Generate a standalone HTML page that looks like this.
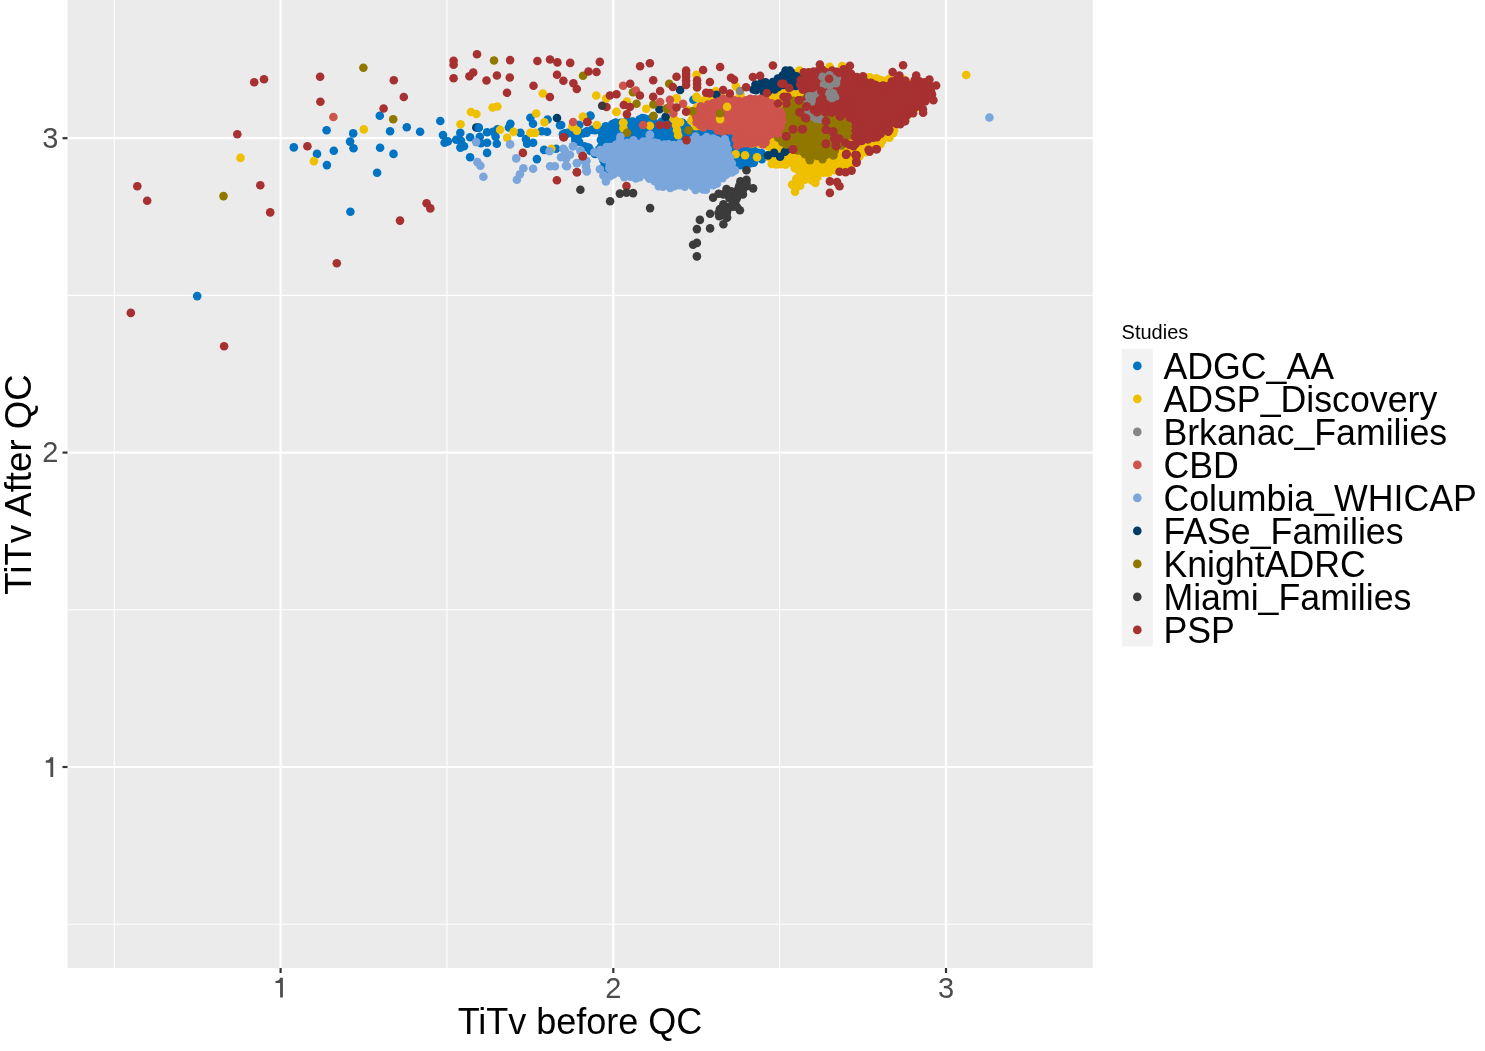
<!DOCTYPE html><html><head><meta charset="utf-8"><style>html,body{margin:0;padding:0;background:#fff;width:1485px;height:1051px;overflow:hidden}svg{display:block;will-change:transform}text{font-family:"Liberation Sans",sans-serif}</style></head><body>
<svg width="1485" height="1051" viewBox="0 0 1485 1051">
<rect width="1485" height="1051" fill="#fff"/>
<rect x="67.5" y="0.0" width="1025.3" height="968.0" fill="#EBEBEB"/>
<line x1="114.25" y1="0.0" x2="114.25" y2="968.0" stroke="#fff" stroke-width="1.1"/>
<line x1="446.95" y1="0.0" x2="446.95" y2="968.0" stroke="#fff" stroke-width="1.1"/>
<line x1="779.65" y1="0.0" x2="779.65" y2="968.0" stroke="#fff" stroke-width="1.1"/>
<line x1="67.5" y1="924.20" x2="1092.8" y2="924.20" stroke="#fff" stroke-width="1.1"/>
<line x1="67.5" y1="609.80" x2="1092.8" y2="609.80" stroke="#fff" stroke-width="1.1"/>
<line x1="67.5" y1="295.40" x2="1092.8" y2="295.40" stroke="#fff" stroke-width="1.1"/>
<line x1="280.60" y1="0.0" x2="280.60" y2="968.0" stroke="#fff" stroke-width="2.2"/>
<line x1="613.30" y1="0.0" x2="613.30" y2="968.0" stroke="#fff" stroke-width="2.2"/>
<line x1="946.00" y1="0.0" x2="946.00" y2="968.0" stroke="#fff" stroke-width="2.2"/>
<line x1="67.5" y1="767.00" x2="1092.8" y2="767.00" stroke="#fff" stroke-width="2.2"/>
<line x1="67.5" y1="452.60" x2="1092.8" y2="452.60" stroke="#fff" stroke-width="2.2"/>
<line x1="67.5" y1="138.20" x2="1092.8" y2="138.20" stroke="#fff" stroke-width="2.2"/>
<g>
<path d="M601.4,129.0 L600.5,149.8 L603.1,166.8 L699.9,176.5 L732.2,171.9 L733.6,166.2 L733.7,165.9 L733.8,165.6 L734.0,165.3 L734.2,165.0 L734.5,164.7 L734.7,164.5 L735.0,164.2 L735.3,164.0 L735.6,163.9 L735.9,163.8 L736.3,163.7 L736.6,163.6 L737.0,163.6 L737.3,163.6 L737.7,163.7 L749.6,166.0 L751.7,164.4 L752.0,164.2 L761.1,158.1 L762.3,155.0 L760.8,151.4 L753.2,150.5 L752.9,150.4 L752.6,150.3 L752.3,150.2 L752.0,150.1 L739.9,144.0 L739.6,143.8 L739.3,143.6 L739.0,143.4 L731.2,135.6 L722.5,133.4 L722.3,133.4 L711.2,130.1 L700.1,133.4 L699.8,133.4 L699.4,133.5 L699.1,133.5 L698.7,133.5 L698.4,133.4 L698.1,133.3 L697.7,133.2 L689.2,129.6 L688.9,129.5 L688.7,129.3 L688.4,129.1 L688.2,128.9 L688.0,128.7 L687.8,128.4 L683.2,122.1 L676.0,124.8 L675.7,124.9 L675.3,125.0 L675.0,125.0 L674.6,125.0 L674.3,125.0 L673.9,124.9 L673.6,124.8 L673.2,124.6 L664.5,120.3 L653.3,121.4 L653.0,121.4 L652.7,121.4 L652.4,121.3 L643.3,119.7 L633.0,121.4 L632.8,121.4 L613.8,123.7 L604.5,127.2 L601.4,129.0Z" fill="#0073C2"/><circle cx="600.1" cy="130.3" r="4.3" fill="#0073C2"/><circle cx="602.1" cy="133.7" r="4.3" fill="#0073C2"/><circle cx="600.9" cy="139.9" r="4.3" fill="#0073C2"/><circle cx="601.2" cy="146.6" r="4.3" fill="#0073C2"/><circle cx="599.2" cy="149.3" r="4.3" fill="#0073C2"/><circle cx="602.7" cy="156.2" r="4.3" fill="#0073C2"/><circle cx="603.3" cy="160.1" r="4.3" fill="#0073C2"/><circle cx="603.5" cy="167.6" r="4.3" fill="#0073C2"/><circle cx="608.2" cy="169.0" r="4.3" fill="#0073C2"/><circle cx="616.1" cy="166.3" r="4.3" fill="#0073C2"/><circle cx="618.4" cy="168.6" r="4.3" fill="#0073C2"/><circle cx="627.2" cy="168.6" r="4.3" fill="#0073C2"/><circle cx="630.0" cy="169.3" r="4.3" fill="#0073C2"/><circle cx="634.9" cy="169.1" r="4.3" fill="#0073C2"/><circle cx="641.8" cy="170.7" r="4.3" fill="#0073C2"/><circle cx="646.6" cy="170.3" r="4.3" fill="#0073C2"/><circle cx="652.0" cy="171.6" r="4.3" fill="#0073C2"/><circle cx="657.7" cy="170.6" r="4.3" fill="#0073C2"/><circle cx="665.2" cy="173.1" r="4.3" fill="#0073C2"/><circle cx="670.0" cy="172.3" r="4.3" fill="#0073C2"/><circle cx="676.7" cy="175.3" r="4.3" fill="#0073C2"/><circle cx="679.0" cy="173.9" r="4.3" fill="#0073C2"/><circle cx="686.7" cy="175.8" r="4.3" fill="#0073C2"/><circle cx="692.9" cy="175.3" r="4.3" fill="#0073C2"/><circle cx="698.0" cy="176.8" r="4.3" fill="#0073C2"/><circle cx="701.6" cy="176.4" r="4.3" fill="#0073C2"/><circle cx="709.2" cy="176.6" r="4.3" fill="#0073C2"/><circle cx="713.3" cy="174.9" r="4.3" fill="#0073C2"/><circle cx="717.0" cy="172.9" r="4.3" fill="#0073C2"/><circle cx="725.2" cy="172.7" r="4.3" fill="#0073C2"/><circle cx="728.4" cy="172.4" r="4.3" fill="#0073C2"/><circle cx="733.6" cy="169.7" r="4.3" fill="#0073C2"/><circle cx="734.6" cy="164.0" r="4.3" fill="#0073C2"/><circle cx="740.5" cy="165.2" r="4.3" fill="#0073C2"/><circle cx="745.9" cy="164.9" r="4.3" fill="#0073C2"/><circle cx="750.9" cy="163.3" r="4.3" fill="#0073C2"/><circle cx="753.8" cy="162.6" r="4.3" fill="#0073C2"/><circle cx="761.8" cy="159.2" r="4.3" fill="#0073C2"/><circle cx="761.5" cy="153.0" r="4.3" fill="#0073C2"/><circle cx="758.3" cy="152.8" r="4.3" fill="#0073C2"/><circle cx="753.8" cy="150.6" r="4.3" fill="#0073C2"/><circle cx="749.2" cy="147.1" r="4.3" fill="#0073C2"/><circle cx="743.0" cy="147.2" r="4.3" fill="#0073C2"/><circle cx="738.6" cy="142.5" r="4.3" fill="#0073C2"/><circle cx="733.6" cy="138.9" r="4.3" fill="#0073C2"/><circle cx="731.9" cy="133.5" r="4.3" fill="#0073C2"/><circle cx="725.9" cy="135.2" r="4.3" fill="#0073C2"/><circle cx="721.0" cy="133.4" r="4.3" fill="#0073C2"/><circle cx="715.4" cy="131.0" r="4.3" fill="#0073C2"/><circle cx="709.3" cy="130.4" r="4.3" fill="#0073C2"/><circle cx="702.2" cy="133.6" r="4.3" fill="#0073C2"/><circle cx="698.7" cy="132.4" r="4.3" fill="#0073C2"/><circle cx="693.3" cy="131.3" r="4.3" fill="#0073C2"/><circle cx="687.8" cy="128.5" r="4.3" fill="#0073C2"/><circle cx="685.2" cy="125.1" r="4.3" fill="#0073C2"/><circle cx="681.4" cy="122.8" r="4.3" fill="#0073C2"/><circle cx="674.1" cy="123.9" r="4.3" fill="#0073C2"/><circle cx="669.5" cy="123.7" r="4.3" fill="#0073C2"/><circle cx="667.1" cy="122.0" r="4.3" fill="#0073C2"/><circle cx="661.5" cy="121.8" r="4.3" fill="#0073C2"/><circle cx="654.0" cy="122.5" r="4.3" fill="#0073C2"/><circle cx="650.1" cy="119.3" r="4.3" fill="#0073C2"/><circle cx="642.3" cy="118.1" r="4.3" fill="#0073C2"/><circle cx="639.5" cy="119.5" r="4.3" fill="#0073C2"/><circle cx="631.8" cy="121.8" r="4.3" fill="#0073C2"/><circle cx="627.2" cy="120.5" r="4.3" fill="#0073C2"/><circle cx="621.0" cy="122.8" r="4.3" fill="#0073C2"/><circle cx="615.6" cy="122.5" r="4.3" fill="#0073C2"/><circle cx="612.2" cy="124.4" r="4.3" fill="#0073C2"/><circle cx="605.7" cy="126.4" r="4.3" fill="#0073C2"/><circle cx="326.6" cy="130.3" r="4.3" fill="#0073C2"/><circle cx="353.2" cy="133.4" r="4.3" fill="#0073C2"/><circle cx="379.8" cy="115.8" r="4.3" fill="#0073C2"/><circle cx="390.1" cy="131.3" r="4.3" fill="#0073C2"/><circle cx="406.8" cy="127.2" r="4.3" fill="#0073C2"/><circle cx="420.1" cy="131.7" r="4.3" fill="#0073C2"/><circle cx="293.8" cy="147.4" r="4.3" fill="#0073C2"/><circle cx="317.0" cy="153.9" r="4.3" fill="#0073C2"/><circle cx="333.8" cy="150.8" r="4.3" fill="#0073C2"/><circle cx="350.1" cy="141.6" r="4.3" fill="#0073C2"/><circle cx="353.5" cy="148.3" r="4.3" fill="#0073C2"/><circle cx="380.1" cy="147.8" r="4.3" fill="#0073C2"/><circle cx="393.5" cy="153.9" r="4.3" fill="#0073C2"/><circle cx="326.9" cy="165.1" r="4.3" fill="#0073C2"/><circle cx="377.1" cy="172.8" r="4.3" fill="#0073C2"/><circle cx="350.4" cy="211.8" r="4.3" fill="#0073C2"/><circle cx="197.2" cy="296.1" r="4.3" fill="#0073C2"/><circle cx="440.3" cy="121.0" r="4.3" fill="#0073C2"/><circle cx="530.4" cy="117.8" r="4.3" fill="#0073C2"/><circle cx="533.0" cy="123.8" r="4.3" fill="#0073C2"/><circle cx="510.4" cy="123.8" r="4.3" fill="#0073C2"/><circle cx="547.6" cy="119.5" r="4.3" fill="#0073C2"/><circle cx="560.0" cy="125.3" r="4.3" fill="#0073C2"/><circle cx="443.0" cy="135.1" r="4.3" fill="#0073C2"/><circle cx="460.3" cy="132.9" r="4.3" fill="#0073C2"/><circle cx="444.6" cy="142.7" r="4.3" fill="#0073C2"/><circle cx="447.8" cy="141.4" r="4.3" fill="#0073C2"/><circle cx="456.2" cy="139.7" r="4.3" fill="#0073C2"/><circle cx="461.0" cy="140.8" r="4.3" fill="#0073C2"/><circle cx="460.4" cy="147.6" r="4.3" fill="#0073C2"/><circle cx="464.0" cy="146.3" r="4.3" fill="#0073C2"/><circle cx="470.1" cy="137.2" r="4.3" fill="#0073C2"/><circle cx="478.6" cy="127.5" r="4.3" fill="#0073C2"/><circle cx="479.8" cy="136.7" r="4.3" fill="#0073C2"/><circle cx="487.1" cy="132.3" r="4.3" fill="#0073C2"/><circle cx="493.1" cy="131.8" r="4.3" fill="#0073C2"/><circle cx="497.4" cy="129.3" r="4.3" fill="#0073C2"/><circle cx="495.6" cy="136.7" r="4.3" fill="#0073C2"/><circle cx="481.0" cy="143.2" r="4.3" fill="#0073C2"/><circle cx="487.1" cy="142.7" r="4.3" fill="#0073C2"/><circle cx="496.8" cy="143.8" r="4.3" fill="#0073C2"/><circle cx="487.1" cy="152.9" r="4.3" fill="#0073C2"/><circle cx="470.1" cy="157.2" r="4.3" fill="#0073C2"/><circle cx="508.9" cy="127.5" r="4.3" fill="#0073C2"/><circle cx="520.4" cy="132.9" r="4.3" fill="#0073C2"/><circle cx="525.9" cy="139.1" r="4.3" fill="#0073C2"/><circle cx="527.1" cy="143.8" r="4.3" fill="#0073C2"/><circle cx="533.1" cy="142.7" r="4.3" fill="#0073C2"/><circle cx="541.6" cy="131.2" r="4.3" fill="#0073C2"/><circle cx="547.1" cy="131.8" r="4.3" fill="#0073C2"/><circle cx="567.1" cy="133.6" r="4.3" fill="#0073C2"/><circle cx="562.9" cy="134.2" r="4.3" fill="#0073C2"/><circle cx="536.9" cy="159.1" r="4.3" fill="#0073C2"/><circle cx="544.1" cy="149.9" r="4.3" fill="#0073C2"/><circle cx="556.1" cy="148.8" r="4.3" fill="#0073C2"/><circle cx="579.2" cy="125.0" r="4.3" fill="#0073C2"/><circle cx="590.1" cy="115.5" r="4.3" fill="#0073C2"/><circle cx="592.5" cy="129.9" r="4.3" fill="#0073C2"/><circle cx="578.0" cy="134.8" r="4.3" fill="#0073C2"/><circle cx="586.5" cy="132.9" r="4.3" fill="#0073C2"/><circle cx="575.6" cy="141.4" r="4.3" fill="#0073C2"/><circle cx="587.8" cy="147.6" r="4.3" fill="#0073C2"/><circle cx="594.9" cy="153.6" r="4.3" fill="#0073C2"/><circle cx="603.4" cy="130.6" r="4.3" fill="#0073C2"/><circle cx="604.6" cy="139.1" r="4.3" fill="#0073C2"/><circle cx="613.4" cy="123.8" r="4.3" fill="#0073C2"/><circle cx="632.9" cy="121.5" r="4.3" fill="#0073C2"/><circle cx="644.9" cy="118.5" r="4.3" fill="#0073C2"/><circle cx="693.4" cy="99.7" r="4.3" fill="#0073C2"/><circle cx="682.5" cy="122.7" r="4.3" fill="#0073C2"/><circle cx="574.2" cy="134.9" r="4.3" fill="#0073C2"/><circle cx="577.6" cy="136.4" r="4.3" fill="#0073C2"/><circle cx="582.9" cy="133.4" r="4.3" fill="#0073C2"/><circle cx="586.8" cy="131.2" r="4.3" fill="#0073C2"/><circle cx="592.1" cy="129.7" r="4.3" fill="#0073C2"/><circle cx="595.1" cy="130.3" r="4.3" fill="#0073C2"/><circle cx="575.4" cy="139.4" r="4.3" fill="#0073C2"/><circle cx="579.1" cy="141.8" r="4.3" fill="#0073C2"/><circle cx="589.0" cy="147.8" r="4.3" fill="#0073C2"/><circle cx="590.5" cy="150.9" r="4.3" fill="#0073C2"/><circle cx="584.5" cy="146.3" r="4.3" fill="#0073C2"/><circle cx="564.8" cy="133.4" r="4.3" fill="#0073C2"/><circle cx="567.8" cy="132.7" r="4.3" fill="#0073C2"/><circle cx="578.4" cy="125.0" r="4.3" fill="#0073C2"/><circle cx="590.5" cy="116.0" r="4.3" fill="#0073C2"/><circle cx="561.2" cy="125.0" r="4.3" fill="#0073C2"/><circle cx="595.1" cy="153.9" r="4.3" fill="#0073C2"/><path d="M706.2,100.5 L697.7,107.3 L691.8,118.4 L693.5,123.8 L699.3,126.3 L710.2,123.0 L710.5,123.0 L710.9,122.9 L711.2,122.9 L711.5,122.9 L711.9,123.0 L712.2,123.0 L724.2,126.6 L733.8,129.0 L734.1,129.1 L734.4,129.2 L734.7,129.4 L735.0,129.5 L735.2,129.7 L735.5,129.9 L743.6,138.0 L754.6,143.6 L763.7,144.7 L764.1,144.8 L764.4,144.9 L764.7,145.0 L765.0,145.1 L765.3,145.3 L765.6,145.5 L765.8,145.8 L766.0,146.0 L766.2,146.3 L766.4,146.6 L766.6,146.9 L769.3,153.7 L769.4,154.0 L769.4,154.4 L769.5,154.7 L769.5,155.0 L769.5,155.4 L769.4,155.7 L768.2,161.4 L776.9,164.9 L790.6,163.8 L790.9,163.8 L791.3,163.8 L791.6,163.9 L791.9,164.0 L792.2,164.1 L792.5,164.2 L792.8,164.4 L793.1,164.6 L793.4,164.8 L799.5,170.8 L799.7,171.1 L799.9,171.3 L800.1,171.6 L800.2,171.9 L800.3,172.3 L800.4,172.6 L800.5,172.9 L800.5,173.3 L800.5,173.6 L800.4,174.0 L800.4,174.3 L800.2,174.6 L800.1,174.9 L799.9,175.2 L799.7,175.5 L799.5,175.8 L793.2,182.0 L793.2,191.3 L794.1,192.1 L800.1,183.5 L800.4,183.1 L805.4,177.6 L805.7,177.4 L805.9,177.2 L806.2,177.0 L806.5,176.8 L806.9,176.7 L807.2,176.6 L807.5,176.5 L807.9,176.5 L808.3,176.5 L808.6,176.6 L808.9,176.6 L809.3,176.7 L809.6,176.9 L809.9,177.1 L810.2,177.3 L816.8,182.6 L820.5,175.4 L820.7,175.1 L820.9,174.8 L821.1,174.5 L821.4,174.3 L821.7,174.1 L822.0,173.9 L822.3,173.7 L822.7,173.6 L835.9,170.0 L853.5,162.9 L858.5,159.5 L862.5,152.6 L862.7,152.3 L862.9,152.1 L863.2,151.8 L863.4,151.6 L863.7,151.4 L864.1,151.2 L864.4,151.1 L864.7,151.0 L872.3,149.3 L880.1,145.3 L884.6,140.8 L890.6,134.8 L895.4,128.3 L895.5,128.0 L895.8,127.8 L896.0,127.6 L898.8,125.3 L899.1,125.1 L904.5,121.5 L912.1,110.1 L912.3,109.8 L912.5,109.5 L922.1,99.9 L926.0,92.2 L922.7,86.9 L899.6,79.6 L880.3,81.5 L880.0,81.5 L879.7,81.5 L879.3,81.4 L859.4,77.4 L834.7,73.5 L810.2,73.5 L791.6,75.4 L774.5,92.5 L774.3,92.7 L774.0,92.9 L773.8,93.0 L761.8,100.0 L761.5,100.2 L761.2,100.3 L760.9,100.4 L760.6,100.5 L760.2,100.5 L745.2,101.5 L744.9,101.5 L719.9,100.5 L706.2,100.5Z" fill="#EFC000"/><circle cx="704.5" cy="100.1" r="4.3" fill="#EFC000"/><circle cx="701.6" cy="102.8" r="4.3" fill="#EFC000"/><circle cx="696.2" cy="108.9" r="4.3" fill="#EFC000"/><circle cx="695.0" cy="111.3" r="4.3" fill="#EFC000"/><circle cx="692.8" cy="118.4" r="4.3" fill="#EFC000"/><circle cx="691.3" cy="120.7" r="4.3" fill="#EFC000"/><circle cx="696.0" cy="126.2" r="4.3" fill="#EFC000"/><circle cx="701.3" cy="126.1" r="4.3" fill="#EFC000"/><circle cx="708.5" cy="123.9" r="4.3" fill="#EFC000"/><circle cx="712.2" cy="125.1" r="4.3" fill="#EFC000"/><circle cx="719.6" cy="125.0" r="4.3" fill="#EFC000"/><circle cx="722.8" cy="127.0" r="4.3" fill="#EFC000"/><circle cx="728.8" cy="128.1" r="4.3" fill="#EFC000"/><circle cx="733.9" cy="129.7" r="4.3" fill="#EFC000"/><circle cx="737.0" cy="132.3" r="4.3" fill="#EFC000"/><circle cx="744.2" cy="138.3" r="4.3" fill="#EFC000"/><circle cx="746.5" cy="141.1" r="4.3" fill="#EFC000"/><circle cx="751.5" cy="143.9" r="4.3" fill="#EFC000"/><circle cx="758.2" cy="143.6" r="4.3" fill="#EFC000"/><circle cx="762.0" cy="142.9" r="4.3" fill="#EFC000"/><circle cx="768.3" cy="146.1" r="4.3" fill="#EFC000"/><circle cx="770.1" cy="154.6" r="4.3" fill="#EFC000"/><circle cx="769.1" cy="157.1" r="4.3" fill="#EFC000"/><circle cx="771.7" cy="164.0" r="4.3" fill="#EFC000"/><circle cx="776.3" cy="164.4" r="4.3" fill="#EFC000"/><circle cx="780.5" cy="164.1" r="4.3" fill="#EFC000"/><circle cx="785.5" cy="164.8" r="4.3" fill="#EFC000"/><circle cx="791.8" cy="162.9" r="4.3" fill="#EFC000"/><circle cx="794.8" cy="168.2" r="4.3" fill="#EFC000"/><circle cx="799.3" cy="171.6" r="4.3" fill="#EFC000"/><circle cx="798.2" cy="177.8" r="4.3" fill="#EFC000"/><circle cx="796.3" cy="178.7" r="4.3" fill="#EFC000"/><circle cx="792.1" cy="184.6" r="4.3" fill="#EFC000"/><circle cx="795.0" cy="191.8" r="4.3" fill="#EFC000"/><circle cx="795.7" cy="188.0" r="4.3" fill="#EFC000"/><circle cx="800.1" cy="185.7" r="4.3" fill="#EFC000"/><circle cx="804.6" cy="179.7" r="4.3" fill="#EFC000"/><circle cx="808.5" cy="177.3" r="4.3" fill="#EFC000"/><circle cx="811.9" cy="180.5" r="4.3" fill="#EFC000"/><circle cx="815.4" cy="183.0" r="4.3" fill="#EFC000"/><circle cx="817.6" cy="177.0" r="4.3" fill="#EFC000"/><circle cx="823.7" cy="172.8" r="4.3" fill="#EFC000"/><circle cx="828.5" cy="172.6" r="4.3" fill="#EFC000"/><circle cx="834.1" cy="170.3" r="4.3" fill="#EFC000"/><circle cx="837.5" cy="168.3" r="4.3" fill="#EFC000"/><circle cx="844.6" cy="167.4" r="4.3" fill="#EFC000"/><circle cx="850.1" cy="166.3" r="4.3" fill="#EFC000"/><circle cx="852.2" cy="163.1" r="4.3" fill="#EFC000"/><circle cx="856.7" cy="158.1" r="4.3" fill="#EFC000"/><circle cx="859.5" cy="156.4" r="4.3" fill="#EFC000"/><circle cx="865.6" cy="152.2" r="4.3" fill="#EFC000"/><circle cx="869.4" cy="150.2" r="4.3" fill="#EFC000"/><circle cx="876.2" cy="147.4" r="4.3" fill="#EFC000"/><circle cx="880.4" cy="144.3" r="4.3" fill="#EFC000"/><circle cx="882.5" cy="140.6" r="4.3" fill="#EFC000"/><circle cx="889.4" cy="137.7" r="4.3" fill="#EFC000"/><circle cx="893.2" cy="133.2" r="4.3" fill="#EFC000"/><circle cx="894.1" cy="129.9" r="4.3" fill="#EFC000"/><circle cx="900.1" cy="123.4" r="4.3" fill="#EFC000"/><circle cx="904.2" cy="120.6" r="4.3" fill="#EFC000"/><circle cx="905.6" cy="119.1" r="4.3" fill="#EFC000"/><circle cx="908.4" cy="112.2" r="4.3" fill="#EFC000"/><circle cx="915.1" cy="108.4" r="4.3" fill="#EFC000"/><circle cx="915.9" cy="103.6" r="4.3" fill="#EFC000"/><circle cx="920.2" cy="101.8" r="4.3" fill="#EFC000"/><circle cx="922.6" cy="97.6" r="4.3" fill="#EFC000"/><circle cx="925.0" cy="92.9" r="4.3" fill="#EFC000"/><circle cx="923.7" cy="86.1" r="4.3" fill="#EFC000"/><circle cx="916.1" cy="85.0" r="4.3" fill="#EFC000"/><circle cx="910.3" cy="84.0" r="4.3" fill="#EFC000"/><circle cx="904.8" cy="80.0" r="4.3" fill="#EFC000"/><circle cx="902.9" cy="79.3" r="4.3" fill="#EFC000"/><circle cx="896.0" cy="79.8" r="4.3" fill="#EFC000"/><circle cx="889.5" cy="78.9" r="4.3" fill="#EFC000"/><circle cx="886.1" cy="82.7" r="4.3" fill="#EFC000"/><circle cx="880.8" cy="80.0" r="4.3" fill="#EFC000"/><circle cx="872.7" cy="80.7" r="4.3" fill="#EFC000"/><circle cx="870.0" cy="79.4" r="4.3" fill="#EFC000"/><circle cx="863.5" cy="78.7" r="4.3" fill="#EFC000"/><circle cx="856.5" cy="77.3" r="4.3" fill="#EFC000"/><circle cx="851.2" cy="75.3" r="4.3" fill="#EFC000"/><circle cx="844.9" cy="74.6" r="4.3" fill="#EFC000"/><circle cx="842.7" cy="74.3" r="4.3" fill="#EFC000"/><circle cx="836.0" cy="74.1" r="4.3" fill="#EFC000"/><circle cx="831.5" cy="73.1" r="4.3" fill="#EFC000"/><circle cx="823.7" cy="72.9" r="4.3" fill="#EFC000"/><circle cx="818.2" cy="74.7" r="4.3" fill="#EFC000"/><circle cx="814.7" cy="72.8" r="4.3" fill="#EFC000"/><circle cx="807.2" cy="73.9" r="4.3" fill="#EFC000"/><circle cx="802.5" cy="74.6" r="4.3" fill="#EFC000"/><circle cx="795.8" cy="73.1" r="4.3" fill="#EFC000"/><circle cx="790.4" cy="74.1" r="4.3" fill="#EFC000"/><circle cx="787.6" cy="78.0" r="4.3" fill="#EFC000"/><circle cx="781.9" cy="84.0" r="4.3" fill="#EFC000"/><circle cx="778.8" cy="88.5" r="4.3" fill="#EFC000"/><circle cx="775.6" cy="92.6" r="4.3" fill="#EFC000"/><circle cx="769.9" cy="94.5" r="4.3" fill="#EFC000"/><circle cx="767.4" cy="95.8" r="4.3" fill="#EFC000"/><circle cx="763.2" cy="98.9" r="4.3" fill="#EFC000"/><circle cx="757.1" cy="102.5" r="4.3" fill="#EFC000"/><circle cx="751.7" cy="100.5" r="4.3" fill="#EFC000"/><circle cx="743.6" cy="101.5" r="4.3" fill="#EFC000"/><circle cx="741.0" cy="100.5" r="4.3" fill="#EFC000"/><circle cx="735.4" cy="99.8" r="4.3" fill="#EFC000"/><circle cx="729.9" cy="99.2" r="4.3" fill="#EFC000"/><circle cx="722.2" cy="102.1" r="4.3" fill="#EFC000"/><circle cx="718.4" cy="102.0" r="4.3" fill="#EFC000"/><circle cx="713.0" cy="101.4" r="4.3" fill="#EFC000"/><circle cx="240.5" cy="157.9" r="4.3" fill="#EFC000"/><circle cx="363.8" cy="129.4" r="4.3" fill="#EFC000"/><circle cx="313.9" cy="161.1" r="4.3" fill="#EFC000"/><circle cx="471.0" cy="112.0" r="4.3" fill="#EFC000"/><circle cx="476.4" cy="114.0" r="4.3" fill="#EFC000"/><circle cx="492.6" cy="107.5" r="4.3" fill="#EFC000"/><circle cx="497.4" cy="106.5" r="4.3" fill="#EFC000"/><circle cx="542.8" cy="93.5" r="4.3" fill="#EFC000"/><circle cx="460.5" cy="124.3" r="4.3" fill="#EFC000"/><circle cx="536.2" cy="113.5" r="4.3" fill="#EFC000"/><circle cx="544.4" cy="122.2" r="4.3" fill="#EFC000"/><circle cx="513.6" cy="131.8" r="4.3" fill="#EFC000"/><circle cx="507.1" cy="137.8" r="4.3" fill="#EFC000"/><circle cx="530.4" cy="132.9" r="4.3" fill="#EFC000"/><circle cx="535.2" cy="132.9" r="4.3" fill="#EFC000"/><circle cx="583.1" cy="116.8" r="4.3" fill="#EFC000"/><circle cx="572.4" cy="126.5" r="4.3" fill="#EFC000"/><circle cx="500.1" cy="129.7" r="4.3" fill="#EFC000"/><circle cx="551.4" cy="148.8" r="4.3" fill="#EFC000"/><circle cx="596.9" cy="125.0" r="4.3" fill="#EFC000"/><circle cx="576.9" cy="130.6" r="4.3" fill="#EFC000"/><circle cx="596.2" cy="95.5" r="4.3" fill="#EFC000"/><circle cx="606.2" cy="98.5" r="4.3" fill="#EFC000"/><circle cx="616.5" cy="111.8" r="4.3" fill="#EFC000"/><circle cx="626.9" cy="101.5" r="4.3" fill="#EFC000"/><circle cx="646.2" cy="108.8" r="4.3" fill="#EFC000"/><circle cx="676.5" cy="98.5" r="4.3" fill="#EFC000"/><circle cx="696.5" cy="74.8" r="4.3" fill="#EFC000"/><circle cx="696.5" cy="96.7" r="4.3" fill="#EFC000"/><circle cx="715.9" cy="91.2" r="4.3" fill="#EFC000"/><circle cx="735.9" cy="86.3" r="4.3" fill="#EFC000"/><circle cx="623.1" cy="122.7" r="4.3" fill="#EFC000"/><circle cx="966.2" cy="75.0" r="4.3" fill="#EFC000"/><circle cx="799.5" cy="70.5" r="4.3" fill="#EFC000"/><circle cx="829.6" cy="66.8" r="4.3" fill="#EFC000"/><circle cx="819.2" cy="84.8" r="4.3" fill="#EFC000"/><circle cx="869.6" cy="77.2" r="4.3" fill="#EFC000"/><circle cx="887.1" cy="80.5" r="4.3" fill="#EFC000"/><circle cx="895.9" cy="83.8" r="4.3" fill="#EFC000"/><circle cx="745.1" cy="155.2" r="4.3" fill="#EFC000"/><circle cx="757.1" cy="157.2" r="4.3" fill="#EFC000"/><circle cx="573.4" cy="127.3" r="4.3" fill="#EFC000"/><circle cx="582.9" cy="116.7" r="4.3" fill="#EFC000"/><circle cx="616.4" cy="112.0" r="4.3" fill="#EFC000"/><circle cx="623.4" cy="122.8" r="4.3" fill="#EFC000"/><circle cx="623.4" cy="128.1" r="4.3" fill="#EFC000"/><circle cx="649.9" cy="125.8" r="4.3" fill="#EFC000"/><circle cx="676.6" cy="98.3" r="4.3" fill="#EFC000"/><circle cx="696.6" cy="97.8" r="4.3" fill="#EFC000"/><circle cx="707.5" cy="96.7" r="4.3" fill="#EFC000"/><circle cx="688.1" cy="110.2" r="4.3" fill="#EFC000"/><circle cx="693.1" cy="114.2" r="4.3" fill="#EFC000"/><circle cx="700.1" cy="116.2" r="4.3" fill="#EFC000"/><circle cx="704.1" cy="110.2" r="4.3" fill="#EFC000"/><circle cx="697.1" cy="107.2" r="4.3" fill="#EFC000"/><circle cx="675.1" cy="120.2" r="4.3" fill="#EFC000"/><circle cx="676.1" cy="125.2" r="4.3" fill="#EFC000"/><circle cx="677.1" cy="130.2" r="4.3" fill="#EFC000"/><circle cx="678.1" cy="135.2" r="4.3" fill="#EFC000"/><circle cx="673.1" cy="118.2" r="4.3" fill="#EFC000"/><circle cx="680.1" cy="122.2" r="4.3" fill="#EFC000"/><circle cx="740.4" cy="94.5" r="4.3" fill="#EFC000"/><circle cx="716.1" cy="96.2" r="4.3" fill="#EFC000"/><circle cx="722.1" cy="97.2" r="4.3" fill="#EFC000"/><circle cx="869.8" cy="77.5" r="4.3" fill="#EFC000"/><circle cx="876.5" cy="78.2" r="4.3" fill="#EFC000"/><circle cx="886.6" cy="80.8" r="4.3" fill="#EFC000"/><circle cx="902.1" cy="80.2" r="4.3" fill="#EFC000"/><circle cx="842.1" cy="66.0" r="4.3" fill="#EFC000"/><circle cx="735.6" cy="154.2" r="4.3" fill="#EFC000"/><path d="M761.0,83.6 L752.1,87.1 L752.9,90.3 L760.3,93.0 L770.0,91.0 L780.6,86.8 L780.9,86.6 L781.2,86.6 L781.6,86.5 L781.9,86.5 L782.3,86.5 L793.0,87.6 L798.6,87.6 L799.9,79.1 L797.0,77.9 L796.7,77.8 L796.4,77.6 L796.1,77.4 L795.8,77.2 L795.6,76.9 L791.2,71.6 L787.6,71.6 L781.9,76.3 L781.6,76.5 L781.3,76.7 L772.6,81.1 L772.3,81.3 L772.0,81.4 L771.7,81.4 L761.0,83.6Z" fill="#003C67"/><circle cx="761.7" cy="82.4" r="4.3" fill="#003C67"/><circle cx="755.5" cy="84.5" r="4.3" fill="#003C67"/><circle cx="753.4" cy="89.5" r="4.3" fill="#003C67"/><circle cx="756.0" cy="90.2" r="4.3" fill="#003C67"/><circle cx="764.0" cy="93.7" r="4.3" fill="#003C67"/><circle cx="768.1" cy="91.6" r="4.3" fill="#003C67"/><circle cx="774.6" cy="89.5" r="4.3" fill="#003C67"/><circle cx="778.2" cy="87.0" r="4.3" fill="#003C67"/><circle cx="783.2" cy="85.0" r="4.3" fill="#003C67"/><circle cx="790.3" cy="87.0" r="4.3" fill="#003C67"/><circle cx="795.7" cy="86.0" r="4.3" fill="#003C67"/><circle cx="798.5" cy="83.8" r="4.3" fill="#003C67"/><circle cx="798.5" cy="78.6" r="4.3" fill="#003C67"/><circle cx="796.5" cy="76.2" r="4.3" fill="#003C67"/><circle cx="791.3" cy="72.7" r="4.3" fill="#003C67"/><circle cx="785.6" cy="70.6" r="4.3" fill="#003C67"/><circle cx="782.3" cy="76.1" r="4.3" fill="#003C67"/><circle cx="777.8" cy="78.5" r="4.3" fill="#003C67"/><circle cx="772.8" cy="82.1" r="4.3" fill="#003C67"/><circle cx="765.6" cy="82.4" r="4.3" fill="#003C67"/><circle cx="557.0" cy="118.0" r="4.3" fill="#003C67"/><circle cx="476.3" cy="127.5" r="4.3" fill="#003C67"/><circle cx="680.1" cy="90.0" r="4.3" fill="#003C67"/><circle cx="659.5" cy="109.3" r="4.3" fill="#003C67"/><circle cx="665.6" cy="116.7" r="4.3" fill="#003C67"/><circle cx="716.5" cy="94.8" r="4.3" fill="#003C67"/><circle cx="789.8" cy="70.5" r="4.3" fill="#003C67"/><circle cx="783.1" cy="75.0" r="4.3" fill="#003C67"/><circle cx="768.0" cy="155.4" r="4.3" fill="#003C67"/><circle cx="774.1" cy="152.9" r="4.3" fill="#003C67"/><circle cx="780.1" cy="156.7" r="4.3" fill="#003C67"/><circle cx="784.9" cy="151.8" r="4.3" fill="#003C67"/><circle cx="787.4" cy="149.2" r="4.3" fill="#003C67"/><path d="M787.0,103.6 L785.4,110.1 L785.4,122.9 L785.4,123.2 L785.3,123.6 L785.3,123.9 L785.2,124.2 L785.0,124.5 L784.9,124.8 L784.7,125.0 L784.4,125.3 L784.2,125.5 L775.7,133.0 L776.3,138.2 L789.0,144.9 L789.1,144.9 L803.3,152.6 L803.6,152.8 L803.9,153.0 L810.3,158.6 L820.4,156.7 L829.6,153.6 L834.5,150.7 L847.4,138.9 L847.4,125.3 L844.6,109.0 L836.9,107.6 L826.1,111.3 L825.8,111.4 L825.5,111.5 L825.2,111.5 L824.9,111.5 L824.5,111.5 L824.2,111.4 L811.2,108.4 L810.9,108.3 L810.6,108.2 L810.3,108.0 L810.0,107.9 L809.7,107.7 L809.5,107.4 L804.2,102.0 L796.3,100.2 L787.0,103.6Z" fill="#8F7700"/><circle cx="786.9" cy="102.7" r="4.3" fill="#8F7700"/><circle cx="785.3" cy="109.3" r="4.3" fill="#8F7700"/><circle cx="786.9" cy="116.2" r="4.3" fill="#8F7700"/><circle cx="784.6" cy="120.9" r="4.3" fill="#8F7700"/><circle cx="782.5" cy="124.1" r="4.3" fill="#8F7700"/><circle cx="779.9" cy="130.7" r="4.3" fill="#8F7700"/><circle cx="774.5" cy="134.0" r="4.3" fill="#8F7700"/><circle cx="778.2" cy="137.7" r="4.3" fill="#8F7700"/><circle cx="782.5" cy="142.3" r="4.3" fill="#8F7700"/><circle cx="786.3" cy="144.4" r="4.3" fill="#8F7700"/><circle cx="792.6" cy="146.7" r="4.3" fill="#8F7700"/><circle cx="797.9" cy="150.5" r="4.3" fill="#8F7700"/><circle cx="803.3" cy="152.0" r="4.3" fill="#8F7700"/><circle cx="805.0" cy="154.1" r="4.3" fill="#8F7700"/><circle cx="809.5" cy="158.8" r="4.3" fill="#8F7700"/><circle cx="816.9" cy="155.9" r="4.3" fill="#8F7700"/><circle cx="822.2" cy="157.1" r="4.3" fill="#8F7700"/><circle cx="826.3" cy="154.6" r="4.3" fill="#8F7700"/><circle cx="830.7" cy="153.0" r="4.3" fill="#8F7700"/><circle cx="834.8" cy="150.6" r="4.3" fill="#8F7700"/><circle cx="841.7" cy="145.5" r="4.3" fill="#8F7700"/><circle cx="843.9" cy="142.8" r="4.3" fill="#8F7700"/><circle cx="849.1" cy="135.5" r="4.3" fill="#8F7700"/><circle cx="848.4" cy="132.4" r="4.3" fill="#8F7700"/><circle cx="848.0" cy="126.2" r="4.3" fill="#8F7700"/><circle cx="846.3" cy="121.5" r="4.3" fill="#8F7700"/><circle cx="847.2" cy="114.0" r="4.3" fill="#8F7700"/><circle cx="845.5" cy="108.7" r="4.3" fill="#8F7700"/><circle cx="837.7" cy="107.3" r="4.3" fill="#8F7700"/><circle cx="832.1" cy="110.2" r="4.3" fill="#8F7700"/><circle cx="829.8" cy="109.2" r="4.3" fill="#8F7700"/><circle cx="823.1" cy="110.7" r="4.3" fill="#8F7700"/><circle cx="815.8" cy="109.1" r="4.3" fill="#8F7700"/><circle cx="810.8" cy="109.4" r="4.3" fill="#8F7700"/><circle cx="805.6" cy="104.1" r="4.3" fill="#8F7700"/><circle cx="802.9" cy="100.0" r="4.3" fill="#8F7700"/><circle cx="798.1" cy="100.9" r="4.3" fill="#8F7700"/><circle cx="793.5" cy="100.7" r="4.3" fill="#8F7700"/><circle cx="363.4" cy="67.8" r="4.3" fill="#8F7700"/><circle cx="393.2" cy="119.2" r="4.3" fill="#8F7700"/><circle cx="223.5" cy="196.1" r="4.3" fill="#8F7700"/><circle cx="494.0" cy="60.5" r="4.3" fill="#8F7700"/><circle cx="583.1" cy="75.8" r="4.3" fill="#8F7700"/><circle cx="632.9" cy="92.3" r="4.3" fill="#8F7700"/><circle cx="636.5" cy="103.8" r="4.3" fill="#8F7700"/><circle cx="653.4" cy="104.5" r="4.3" fill="#8F7700"/><circle cx="669.2" cy="83.8" r="4.3" fill="#8F7700"/><circle cx="653.4" cy="116.0" r="4.3" fill="#8F7700"/><circle cx="693.4" cy="111.8" r="4.3" fill="#8F7700"/><circle cx="666.9" cy="108.2" r="4.3" fill="#8F7700"/><circle cx="809.9" cy="160.2" r="4.3" fill="#8F7700"/><circle cx="822.5" cy="159.1" r="4.3" fill="#8F7700"/><circle cx="833.4" cy="155.4" r="4.3" fill="#8F7700"/><circle cx="627.1" cy="132.7" r="4.3" fill="#8F7700"/><circle cx="653.4" cy="116.0" r="4.3" fill="#8F7700"/><circle cx="666.9" cy="109.2" r="4.3" fill="#8F7700"/><circle cx="701.9" cy="112.0" r="4.3" fill="#8F7700"/><circle cx="688.6" cy="130.2" r="4.3" fill="#8F7700"/><path d="M701.7,106.1 L698.2,111.4 L695.1,123.3 L700.7,126.4 L709.7,125.5 L710.0,125.5 L710.4,125.5 L710.7,125.6 L711.1,125.7 L711.4,125.8 L723.6,131.2 L728.9,128.9 L729.2,128.8 L729.6,128.7 L729.9,128.6 L730.3,128.6 L730.7,128.6 L731.0,128.7 L731.4,128.8 L731.7,128.9 L732.0,129.0 L738.1,132.4 L738.4,132.6 L738.7,132.8 L738.9,133.1 L739.1,133.3 L739.3,133.6 L739.5,133.9 L739.6,134.2 L739.8,134.5 L739.8,134.8 L739.9,135.2 L740.9,145.3 L746.6,144.8 L756.5,142.9 L756.9,142.8 L757.2,142.8 L757.6,142.8 L757.9,142.9 L764.6,144.3 L766.8,138.9 L766.9,138.6 L767.1,138.3 L767.3,138.0 L767.5,137.8 L767.7,137.5 L768.0,137.3 L768.3,137.1 L768.6,137.0 L777.8,133.0 L780.0,124.4 L780.7,117.9 L779.7,110.0 L772.7,103.9 L761.3,99.3 L752.7,97.2 L741.5,100.1 L741.1,100.2 L740.7,100.2 L740.3,100.2 L730.6,99.5 L730.4,99.5 L722.7,98.4 L712.7,101.8 L701.7,106.1Z" fill="#CD534C"/><circle cx="700.9" cy="106.3" r="4.3" fill="#CD534C"/><circle cx="697.9" cy="111.1" r="4.3" fill="#CD534C"/><circle cx="696.1" cy="116.7" r="4.3" fill="#CD534C"/><circle cx="696.6" cy="122.5" r="4.3" fill="#CD534C"/><circle cx="700.0" cy="125.2" r="4.3" fill="#CD534C"/><circle cx="703.4" cy="127.4" r="4.3" fill="#CD534C"/><circle cx="710.0" cy="125.8" r="4.3" fill="#CD534C"/><circle cx="713.8" cy="126.3" r="4.3" fill="#CD534C"/><circle cx="717.9" cy="130.4" r="4.3" fill="#CD534C"/><circle cx="723.1" cy="131.7" r="4.3" fill="#CD534C"/><circle cx="729.7" cy="130.4" r="4.3" fill="#CD534C"/><circle cx="735.6" cy="132.2" r="4.3" fill="#CD534C"/><circle cx="738.0" cy="133.5" r="4.3" fill="#CD534C"/><circle cx="740.5" cy="138.2" r="4.3" fill="#CD534C"/><circle cx="740.8" cy="143.9" r="4.3" fill="#CD534C"/><circle cx="745.7" cy="143.1" r="4.3" fill="#CD534C"/><circle cx="750.9" cy="143.8" r="4.3" fill="#CD534C"/><circle cx="755.8" cy="142.5" r="4.3" fill="#CD534C"/><circle cx="763.0" cy="144.4" r="4.3" fill="#CD534C"/><circle cx="765.6" cy="142.1" r="4.3" fill="#CD534C"/><circle cx="768.1" cy="135.9" r="4.3" fill="#CD534C"/><circle cx="771.9" cy="134.0" r="4.3" fill="#CD534C"/><circle cx="778.4" cy="133.4" r="4.3" fill="#CD534C"/><circle cx="780.7" cy="126.7" r="4.3" fill="#CD534C"/><circle cx="782.1" cy="121.0" r="4.3" fill="#CD534C"/><circle cx="781.6" cy="115.3" r="4.3" fill="#CD534C"/><circle cx="780.6" cy="111.9" r="4.3" fill="#CD534C"/><circle cx="774.9" cy="105.3" r="4.3" fill="#CD534C"/><circle cx="771.5" cy="103.4" r="4.3" fill="#CD534C"/><circle cx="765.4" cy="99.4" r="4.3" fill="#CD534C"/><circle cx="760.3" cy="98.9" r="4.3" fill="#CD534C"/><circle cx="755.0" cy="99.2" r="4.3" fill="#CD534C"/><circle cx="750.3" cy="98.8" r="4.3" fill="#CD534C"/><circle cx="746.0" cy="100.2" r="4.3" fill="#CD534C"/><circle cx="739.1" cy="101.0" r="4.3" fill="#CD534C"/><circle cx="734.1" cy="100.2" r="4.3" fill="#CD534C"/><circle cx="728.5" cy="98.8" r="4.3" fill="#CD534C"/><circle cx="723.0" cy="98.9" r="4.3" fill="#CD534C"/><circle cx="718.9" cy="101.2" r="4.3" fill="#CD534C"/><circle cx="713.3" cy="103.0" r="4.3" fill="#CD534C"/><circle cx="708.0" cy="104.5" r="4.3" fill="#CD534C"/><circle cx="333.4" cy="117.0" r="4.3" fill="#CD534C"/><circle cx="573.1" cy="122.0" r="4.3" fill="#CD534C"/><circle cx="623.1" cy="85.8" r="4.3" fill="#CD534C"/><circle cx="635.9" cy="90.5" r="4.3" fill="#CD534C"/><circle cx="660.1" cy="102.0" r="4.3" fill="#CD534C"/><circle cx="669.9" cy="99.7" r="4.3" fill="#CD534C"/><circle cx="670.4" cy="105.8" r="4.3" fill="#CD534C"/><circle cx="673.4" cy="113.5" r="4.3" fill="#CD534C"/><circle cx="683.1" cy="103.8" r="4.3" fill="#CD534C"/><circle cx="643.1" cy="125.0" r="4.3" fill="#CD534C"/><circle cx="727.1" cy="106.8" r="4.3" fill="#EFC000"/><circle cx="720.1" cy="119.2" r="4.3" fill="#EFC000"/><circle cx="719.9" cy="113.3" r="4.3" fill="#8F7700"/><circle cx="692.5" cy="111.2" r="4.3" fill="#8F7700"/><path d="M600.7,150.9 L601.5,157.9 L607.7,163.1 L608.0,163.3 L608.2,163.6 L608.4,163.9 L608.6,164.2 L608.7,164.5 L608.9,164.8 L608.9,165.1 L609.0,165.5 L610.0,176.7 L615.1,174.2 L615.5,174.0 L615.8,173.9 L616.2,173.8 L616.5,173.8 L616.9,173.8 L617.3,173.8 L617.6,173.9 L630.7,177.5 L639.4,178.5 L647.2,176.3 L647.6,176.3 L647.9,176.2 L648.2,176.2 L648.6,176.2 L648.9,176.3 L649.2,176.3 L649.5,176.5 L649.8,176.6 L650.1,176.8 L650.4,177.0 L650.6,177.2 L650.9,177.4 L657.3,185.0 L668.8,187.0 L681.5,184.8 L681.8,184.7 L682.2,184.7 L682.6,184.7 L682.9,184.8 L697.1,188.3 L708.9,188.3 L718.8,181.7 L728.0,173.9 L728.4,173.7 L728.7,173.5 L734.0,170.8 L733.1,168.4 L730.5,161.7 L730.3,161.3 L730.2,160.9 L728.2,147.6 L726.6,139.8 L717.7,140.8 L717.3,140.8 L716.9,140.8 L716.5,140.7 L706.0,138.3 L693.6,138.3 L675.9,144.2 L675.6,144.3 L675.3,144.4 L675.0,144.4 L662.9,145.0 L662.5,145.0 L662.2,145.0 L661.8,144.9 L648.7,141.5 L638.8,142.5 L638.5,142.5 L638.2,142.5 L620.6,141.1 L607.6,147.1 L600.7,150.9Z" fill="#7AA6DC"/><circle cx="600.2" cy="150.1" r="4.3" fill="#7AA6DC"/><circle cx="602.1" cy="157.8" r="4.3" fill="#7AA6DC"/><circle cx="604.8" cy="159.3" r="4.3" fill="#7AA6DC"/><circle cx="609.8" cy="164.2" r="4.3" fill="#7AA6DC"/><circle cx="609.3" cy="168.1" r="4.3" fill="#7AA6DC"/><circle cx="609.9" cy="176.2" r="4.3" fill="#7AA6DC"/><circle cx="613.4" cy="174.4" r="4.3" fill="#7AA6DC"/><circle cx="619.5" cy="172.6" r="4.3" fill="#7AA6DC"/><circle cx="624.3" cy="177.3" r="4.3" fill="#7AA6DC"/><circle cx="630.3" cy="176.8" r="4.3" fill="#7AA6DC"/><circle cx="635.8" cy="178.4" r="4.3" fill="#7AA6DC"/><circle cx="639.5" cy="177.2" r="4.3" fill="#7AA6DC"/><circle cx="647.3" cy="175.9" r="4.3" fill="#7AA6DC"/><circle cx="649.4" cy="178.8" r="4.3" fill="#7AA6DC"/><circle cx="654.7" cy="181.3" r="4.3" fill="#7AA6DC"/><circle cx="658.7" cy="186.1" r="4.3" fill="#7AA6DC"/><circle cx="662.9" cy="186.7" r="4.3" fill="#7AA6DC"/><circle cx="670.3" cy="188.0" r="4.3" fill="#7AA6DC"/><circle cx="674.2" cy="186.3" r="4.3" fill="#7AA6DC"/><circle cx="679.5" cy="185.2" r="4.3" fill="#7AA6DC"/><circle cx="684.7" cy="186.6" r="4.3" fill="#7AA6DC"/><circle cx="692.6" cy="186.2" r="4.3" fill="#7AA6DC"/><circle cx="695.6" cy="189.9" r="4.3" fill="#7AA6DC"/><circle cx="702.9" cy="189.5" r="4.3" fill="#7AA6DC"/><circle cx="706.0" cy="189.7" r="4.3" fill="#7AA6DC"/><circle cx="713.0" cy="185.2" r="4.3" fill="#7AA6DC"/><circle cx="716.9" cy="183.8" r="4.3" fill="#7AA6DC"/><circle cx="722.5" cy="178.3" r="4.3" fill="#7AA6DC"/><circle cx="726.2" cy="174.7" r="4.3" fill="#7AA6DC"/><circle cx="732.0" cy="172.5" r="4.3" fill="#7AA6DC"/><circle cx="735.1" cy="170.4" r="4.3" fill="#7AA6DC"/><circle cx="731.9" cy="163.5" r="4.3" fill="#7AA6DC"/><circle cx="730.1" cy="157.8" r="4.3" fill="#7AA6DC"/><circle cx="727.8" cy="154.4" r="4.3" fill="#7AA6DC"/><circle cx="727.7" cy="149.1" r="4.3" fill="#7AA6DC"/><circle cx="726.2" cy="143.5" r="4.3" fill="#7AA6DC"/><circle cx="724.8" cy="139.4" r="4.3" fill="#7AA6DC"/><circle cx="717.1" cy="140.3" r="4.3" fill="#7AA6DC"/><circle cx="713.1" cy="138.5" r="4.3" fill="#7AA6DC"/><circle cx="706.6" cy="137.1" r="4.3" fill="#7AA6DC"/><circle cx="702.5" cy="139.7" r="4.3" fill="#7AA6DC"/><circle cx="695.6" cy="136.6" r="4.3" fill="#7AA6DC"/><circle cx="692.0" cy="140.2" r="4.3" fill="#7AA6DC"/><circle cx="687.6" cy="141.3" r="4.3" fill="#7AA6DC"/><circle cx="680.1" cy="143.8" r="4.3" fill="#7AA6DC"/><circle cx="674.1" cy="145.0" r="4.3" fill="#7AA6DC"/><circle cx="668.5" cy="144.3" r="4.3" fill="#7AA6DC"/><circle cx="664.4" cy="144.5" r="4.3" fill="#7AA6DC"/><circle cx="657.8" cy="143.2" r="4.3" fill="#7AA6DC"/><circle cx="654.7" cy="142.6" r="4.3" fill="#7AA6DC"/><circle cx="648.5" cy="140.6" r="4.3" fill="#7AA6DC"/><circle cx="643.4" cy="141.5" r="4.3" fill="#7AA6DC"/><circle cx="637.5" cy="143.9" r="4.3" fill="#7AA6DC"/><circle cx="633.4" cy="140.3" r="4.3" fill="#7AA6DC"/><circle cx="627.2" cy="142.8" r="4.3" fill="#7AA6DC"/><circle cx="619.9" cy="140.7" r="4.3" fill="#7AA6DC"/><circle cx="615.8" cy="144.9" r="4.3" fill="#7AA6DC"/><circle cx="610.2" cy="147.1" r="4.3" fill="#7AA6DC"/><circle cx="606.5" cy="147.0" r="4.3" fill="#7AA6DC"/><circle cx="476.2" cy="142.1" r="4.3" fill="#7AA6DC"/><circle cx="510.1" cy="144.4" r="4.3" fill="#7AA6DC"/><circle cx="477.4" cy="162.1" r="4.3" fill="#7AA6DC"/><circle cx="480.4" cy="165.8" r="4.3" fill="#7AA6DC"/><circle cx="483.4" cy="176.7" r="4.3" fill="#7AA6DC"/><circle cx="516.2" cy="158.4" r="4.3" fill="#7AA6DC"/><circle cx="523.4" cy="168.2" r="4.3" fill="#7AA6DC"/><circle cx="519.9" cy="174.2" r="4.3" fill="#7AA6DC"/><circle cx="516.9" cy="179.7" r="4.3" fill="#7AA6DC"/><circle cx="533.1" cy="168.8" r="4.3" fill="#7AA6DC"/><circle cx="549.5" cy="151.2" r="4.3" fill="#7AA6DC"/><circle cx="550.1" cy="166.3" r="4.3" fill="#7AA6DC"/><circle cx="554.9" cy="166.3" r="4.3" fill="#7AA6DC"/><circle cx="563.4" cy="148.8" r="4.3" fill="#7AA6DC"/><circle cx="573.1" cy="146.3" r="4.3" fill="#7AA6DC"/><circle cx="561.0" cy="157.2" r="4.3" fill="#7AA6DC"/><circle cx="565.9" cy="165.8" r="4.3" fill="#7AA6DC"/><circle cx="576.9" cy="163.2" r="4.3" fill="#7AA6DC"/><circle cx="580.4" cy="150.6" r="4.3" fill="#7AA6DC"/><circle cx="586.5" cy="160.8" r="4.3" fill="#7AA6DC"/><circle cx="586.5" cy="170.6" r="4.3" fill="#7AA6DC"/><circle cx="599.9" cy="169.3" r="4.3" fill="#7AA6DC"/><circle cx="603.4" cy="175.4" r="4.3" fill="#7AA6DC"/><circle cx="605.9" cy="181.4" r="4.3" fill="#7AA6DC"/><circle cx="599.9" cy="154.8" r="4.3" fill="#7AA6DC"/><circle cx="989.4" cy="117.5" r="4.3" fill="#7AA6DC"/><circle cx="573.0" cy="146.3" r="4.3" fill="#7AA6DC"/><circle cx="580.6" cy="150.9" r="4.3" fill="#7AA6DC"/><circle cx="564.8" cy="150.9" r="4.3" fill="#7AA6DC"/><circle cx="566.2" cy="158.6" r="4.3" fill="#7AA6DC"/><circle cx="566.9" cy="166.2" r="4.3" fill="#7AA6DC"/><circle cx="576.9" cy="163.1" r="4.3" fill="#7AA6DC"/><circle cx="582.9" cy="160.1" r="4.3" fill="#7AA6DC"/><circle cx="586.0" cy="166.2" r="4.3" fill="#7AA6DC"/><circle cx="586.8" cy="171.4" r="4.3" fill="#7AA6DC"/><circle cx="570.0" cy="154.8" r="4.3" fill="#7AA6DC"/><circle cx="649.9" cy="134.9" r="4.3" fill="#7AA6DC"/><circle cx="649.9" cy="134.9" r="4.3" fill="#7AA6DC"/><circle cx="620.4" cy="136.8" r="4.3" fill="#7AA6DC"/><circle cx="594.4" cy="152.2" r="4.3" fill="#7AA6DC"/><circle cx="735.9" cy="139.2" r="4.3" fill="#CD534C"/><circle cx="736.9" cy="145.8" r="4.3" fill="#CD534C"/><path d="M802.4,74.0 L801.6,84.4 L808.1,98.4 L814.4,109.2 L820.6,111.5 L835.0,111.5 L835.3,111.5 L835.5,111.5 L848.5,113.5 L848.9,113.6 L849.2,113.7 L849.5,113.8 L849.8,114.0 L850.1,114.2 L850.3,114.4 L850.6,114.6 L850.8,114.9 L851.0,115.1 L851.1,115.4 L855.1,123.4 L855.3,123.7 L855.4,124.0 L855.4,124.4 L855.5,124.7 L855.5,125.0 L855.5,139.3 L856.9,142.5 L861.1,140.8 L861.2,140.7 L869.2,137.7 L869.5,137.6 L880.1,134.9 L881.7,132.6 L882.0,132.3 L882.2,132.0 L882.5,131.8 L882.8,131.6 L883.1,131.4 L883.4,131.3 L883.8,131.2 L887.6,130.3 L890.5,126.4 L890.7,126.1 L891.0,125.9 L891.3,125.7 L891.5,125.5 L891.9,125.3 L892.2,125.2 L899.6,122.7 L899.9,122.6 L900.3,122.5 L900.7,122.5 L904.7,122.5 L906.3,119.5 L910.2,111.5 L910.3,111.2 L910.5,110.9 L910.8,110.6 L911.0,110.4 L911.3,110.1 L911.6,109.9 L911.9,109.8 L921.1,105.8 L926.8,100.7 L927.0,100.5 L930.7,97.7 L932.6,86.8 L927.4,83.2 L916.6,79.8 L911.9,82.9 L911.6,83.1 L911.3,83.2 L911.0,83.3 L910.7,83.4 L910.3,83.5 L910.0,83.5 L909.7,83.5 L909.3,83.4 L909.0,83.4 L899.0,80.4 L898.8,80.3 L893.0,78.1 L886.6,85.3 L886.4,85.6 L886.1,85.8 L885.8,86.0 L885.5,86.2 L885.2,86.3 L884.8,86.4 L884.5,86.5 L884.1,86.5 L883.8,86.5 L883.4,86.5 L871.4,84.5 L871.0,84.4 L870.7,84.2 L870.3,84.1 L861.7,79.3 L855.0,77.4 L854.7,77.2 L854.4,77.1 L854.0,76.9 L853.7,76.7 L853.5,76.4 L853.2,76.1 L847.5,68.8 L842.5,69.5 L830.6,71.5 L830.2,71.5 L829.8,71.5 L829.5,71.5 L829.1,71.4 L828.8,71.3 L828.4,71.1 L820.2,67.0 L816.8,69.0 L816.4,69.2 L816.1,69.3 L815.7,69.4 L806.4,71.3 L802.4,74.0Z" fill="#A73030"/><circle cx="803.8" cy="72.2" r="4.3" fill="#A73030"/><circle cx="800.7" cy="80.1" r="4.3" fill="#A73030"/><circle cx="800.2" cy="84.5" r="4.3" fill="#A73030"/><circle cx="802.8" cy="89.8" r="4.3" fill="#A73030"/><circle cx="807.7" cy="96.4" r="4.3" fill="#A73030"/><circle cx="807.3" cy="98.2" r="4.3" fill="#A73030"/><circle cx="813.0" cy="102.9" r="4.3" fill="#A73030"/><circle cx="813.8" cy="107.9" r="4.3" fill="#A73030"/><circle cx="818.3" cy="109.5" r="4.3" fill="#A73030"/><circle cx="825.7" cy="112.4" r="4.3" fill="#A73030"/><circle cx="831.4" cy="112.7" r="4.3" fill="#A73030"/><circle cx="836.8" cy="111.3" r="4.3" fill="#A73030"/><circle cx="842.2" cy="114.2" r="4.3" fill="#A73030"/><circle cx="847.6" cy="112.4" r="4.3" fill="#A73030"/><circle cx="849.9" cy="117.7" r="4.3" fill="#A73030"/><circle cx="854.3" cy="120.5" r="4.3" fill="#A73030"/><circle cx="855.9" cy="126.4" r="4.3" fill="#A73030"/><circle cx="855.6" cy="130.2" r="4.3" fill="#A73030"/><circle cx="855.0" cy="136.9" r="4.3" fill="#A73030"/><circle cx="855.8" cy="143.8" r="4.3" fill="#A73030"/><circle cx="861.7" cy="141.0" r="4.3" fill="#A73030"/><circle cx="867.9" cy="139.4" r="4.3" fill="#A73030"/><circle cx="873.2" cy="137.8" r="4.3" fill="#A73030"/><circle cx="876.9" cy="137.2" r="4.3" fill="#A73030"/><circle cx="880.6" cy="133.9" r="4.3" fill="#A73030"/><circle cx="888.2" cy="131.7" r="4.3" fill="#A73030"/><circle cx="888.9" cy="124.9" r="4.3" fill="#A73030"/><circle cx="896.5" cy="124.0" r="4.3" fill="#A73030"/><circle cx="900.2" cy="124.2" r="4.3" fill="#A73030"/><circle cx="903.7" cy="121.3" r="4.3" fill="#A73030"/><circle cx="907.6" cy="114.9" r="4.3" fill="#A73030"/><circle cx="909.9" cy="112.0" r="4.3" fill="#A73030"/><circle cx="916.2" cy="106.8" r="4.3" fill="#A73030"/><circle cx="920.0" cy="104.8" r="4.3" fill="#A73030"/><circle cx="925.3" cy="101.5" r="4.3" fill="#A73030"/><circle cx="926.8" cy="99.0" r="4.3" fill="#A73030"/><circle cx="932.0" cy="94.4" r="4.3" fill="#A73030"/><circle cx="930.8" cy="90.7" r="4.3" fill="#A73030"/><circle cx="931.5" cy="86.6" r="4.3" fill="#A73030"/><circle cx="924.9" cy="82.4" r="4.3" fill="#A73030"/><circle cx="919.5" cy="81.2" r="4.3" fill="#A73030"/><circle cx="914.7" cy="80.1" r="4.3" fill="#A73030"/><circle cx="911.6" cy="85.1" r="4.3" fill="#A73030"/><circle cx="905.5" cy="80.8" r="4.3" fill="#A73030"/><circle cx="900.5" cy="80.5" r="4.3" fill="#A73030"/><circle cx="896.5" cy="79.6" r="4.3" fill="#A73030"/><circle cx="891.8" cy="81.6" r="4.3" fill="#A73030"/><circle cx="887.1" cy="86.4" r="4.3" fill="#A73030"/><circle cx="883.1" cy="85.5" r="4.3" fill="#A73030"/><circle cx="875.3" cy="84.8" r="4.3" fill="#A73030"/><circle cx="871.1" cy="82.9" r="4.3" fill="#A73030"/><circle cx="865.6" cy="82.1" r="4.3" fill="#A73030"/><circle cx="859.7" cy="80.3" r="4.3" fill="#A73030"/><circle cx="856.6" cy="77.0" r="4.3" fill="#A73030"/><circle cx="851.1" cy="73.8" r="4.3" fill="#A73030"/><circle cx="847.8" cy="70.9" r="4.3" fill="#A73030"/><circle cx="843.6" cy="69.4" r="4.3" fill="#A73030"/><circle cx="836.9" cy="71.7" r="4.3" fill="#A73030"/><circle cx="832.1" cy="70.5" r="4.3" fill="#A73030"/><circle cx="825.9" cy="72.4" r="4.3" fill="#A73030"/><circle cx="822.4" cy="69.7" r="4.3" fill="#A73030"/><circle cx="819.2" cy="70.2" r="4.3" fill="#A73030"/><circle cx="813.6" cy="71.6" r="4.3" fill="#A73030"/><circle cx="808.6" cy="72.2" r="4.3" fill="#A73030"/><path d="M823.7,76.6 L823.7,83.7 L828.1,84.5 L835.3,83.6 L835.3,76.8 L829.9,75.6 L823.7,76.6Z" fill="#868686"/><circle cx="822.4" cy="76.7" r="4.3" fill="#868686"/><circle cx="824.0" cy="84.6" r="4.3" fill="#868686"/><circle cx="830.0" cy="85.1" r="4.3" fill="#868686"/><circle cx="836.1" cy="83.1" r="4.3" fill="#868686"/><circle cx="836.9" cy="78.0" r="4.3" fill="#868686"/><circle cx="829.5" cy="75.4" r="4.3" fill="#868686"/><circle cx="739.9" cy="91.0" r="4.3" fill="#868686"/><circle cx="809.1" cy="96.2" r="4.3" fill="#868686"/><circle cx="808.1" cy="103.2" r="4.3" fill="#868686"/><circle cx="808.1" cy="110.2" r="4.3" fill="#868686"/><circle cx="811.1" cy="115.2" r="4.3" fill="#868686"/><circle cx="815.1" cy="94.2" r="4.3" fill="#868686"/><circle cx="829.1" cy="93.2" r="4.3" fill="#868686"/><circle cx="832.1" cy="98.2" r="4.3" fill="#868686"/><circle cx="830.1" cy="100.2" r="4.3" fill="#868686"/><circle cx="812.1" cy="96.2" r="4.3" fill="#868686"/><circle cx="813.1" cy="101.2" r="4.3" fill="#868686"/><circle cx="812.1" cy="116.2" r="4.3" fill="#868686"/><circle cx="816.1" cy="118.8" r="4.3" fill="#868686"/><circle cx="820.1" cy="119.2" r="4.3" fill="#868686"/><circle cx="833.1" cy="93.2" r="4.3" fill="#868686"/><circle cx="835.1" cy="97.2" r="4.3" fill="#868686"/><circle cx="254.2" cy="82.3" r="4.3" fill="#A73030"/><circle cx="264.0" cy="79.2" r="4.3" fill="#A73030"/><circle cx="237.3" cy="134.2" r="4.3" fill="#A73030"/><circle cx="320.1" cy="76.8" r="4.3" fill="#A73030"/><circle cx="320.4" cy="101.8" r="4.3" fill="#A73030"/><circle cx="393.8" cy="80.2" r="4.3" fill="#A73030"/><circle cx="403.8" cy="97.0" r="4.3" fill="#A73030"/><circle cx="383.6" cy="108.5" r="4.3" fill="#A73030"/><circle cx="307.4" cy="146.2" r="4.3" fill="#A73030"/><circle cx="137.3" cy="186.2" r="4.3" fill="#A73030"/><circle cx="147.2" cy="200.8" r="4.3" fill="#A73030"/><circle cx="260.3" cy="185.2" r="4.3" fill="#A73030"/><circle cx="270.2" cy="212.4" r="4.3" fill="#A73030"/><circle cx="426.6" cy="203.2" r="4.3" fill="#A73030"/><circle cx="430.3" cy="208.4" r="4.3" fill="#A73030"/><circle cx="400.0" cy="220.6" r="4.3" fill="#A73030"/><circle cx="336.8" cy="263.2" r="4.3" fill="#A73030"/><circle cx="130.8" cy="312.9" r="4.3" fill="#A73030"/><circle cx="224.1" cy="346.2" r="4.3" fill="#A73030"/><circle cx="453.6" cy="60.8" r="4.3" fill="#A73030"/><circle cx="453.6" cy="64.8" r="4.3" fill="#A73030"/><circle cx="477.0" cy="54.2" r="4.3" fill="#A73030"/><circle cx="510.1" cy="60.1" r="4.3" fill="#A73030"/><circle cx="537.4" cy="61.0" r="4.3" fill="#A73030"/><circle cx="550.0" cy="59.5" r="4.3" fill="#A73030"/><circle cx="557.4" cy="62.4" r="4.3" fill="#A73030"/><circle cx="570.2" cy="62.9" r="4.3" fill="#A73030"/><circle cx="453.6" cy="78.2" r="4.3" fill="#A73030"/><circle cx="473.2" cy="72.5" r="4.3" fill="#A73030"/><circle cx="469.4" cy="76.3" r="4.3" fill="#A73030"/><circle cx="486.5" cy="80.5" r="4.3" fill="#A73030"/><circle cx="496.9" cy="75.5" r="4.3" fill="#A73030"/><circle cx="509.8" cy="77.5" r="4.3" fill="#A73030"/><circle cx="507.0" cy="92.8" r="4.3" fill="#A73030"/><circle cx="533.5" cy="85.8" r="4.3" fill="#A73030"/><circle cx="557.0" cy="74.8" r="4.3" fill="#A73030"/><circle cx="563.4" cy="80.7" r="4.3" fill="#A73030"/><circle cx="573.4" cy="83.3" r="4.3" fill="#A73030"/><circle cx="576.8" cy="89.0" r="4.3" fill="#A73030"/><circle cx="549.9" cy="97.0" r="4.3" fill="#A73030"/><circle cx="588.5" cy="71.5" r="4.3" fill="#A73030"/><circle cx="522.9" cy="152.9" r="4.3" fill="#A73030"/><circle cx="563.4" cy="137.2" r="4.3" fill="#A73030"/><circle cx="587.1" cy="122.0" r="4.3" fill="#A73030"/><circle cx="582.9" cy="156.1" r="4.3" fill="#A73030"/><circle cx="576.9" cy="172.3" r="4.3" fill="#A73030"/><circle cx="556.9" cy="180.2" r="4.3" fill="#A73030"/><circle cx="606.5" cy="107.0" r="4.3" fill="#A73030"/><circle cx="599.8" cy="61.9" r="4.3" fill="#A73030"/><circle cx="596.5" cy="72.0" r="4.3" fill="#A73030"/><circle cx="640.1" cy="66.3" r="4.3" fill="#A73030"/><circle cx="649.9" cy="63.2" r="4.3" fill="#A73030"/><circle cx="653.2" cy="80.2" r="4.3" fill="#A73030"/><circle cx="630.2" cy="83.7" r="4.3" fill="#A73030"/><circle cx="660.1" cy="91.0" r="4.3" fill="#A73030"/><circle cx="616.5" cy="94.2" r="4.3" fill="#A73030"/><circle cx="609.9" cy="95.5" r="4.3" fill="#A73030"/><circle cx="639.9" cy="95.5" r="4.3" fill="#A73030"/><circle cx="653.2" cy="96.7" r="4.3" fill="#A73030"/><circle cx="623.8" cy="105.0" r="4.3" fill="#A73030"/><circle cx="629.9" cy="107.0" r="4.3" fill="#A73030"/><circle cx="626.9" cy="114.2" r="4.3" fill="#A73030"/><circle cx="676.5" cy="76.7" r="4.3" fill="#A73030"/><circle cx="686.1" cy="70.5" r="4.3" fill="#A73030"/><circle cx="686.1" cy="73.7" r="4.3" fill="#A73030"/><circle cx="686.1" cy="76.7" r="4.3" fill="#A73030"/><circle cx="686.1" cy="80.8" r="4.3" fill="#A73030"/><circle cx="686.1" cy="85.0" r="4.3" fill="#A73030"/><circle cx="703.1" cy="70.0" r="4.3" fill="#A73030"/><circle cx="720.1" cy="67.0" r="4.3" fill="#A73030"/><circle cx="709.9" cy="82.0" r="4.3" fill="#A73030"/><circle cx="697.1" cy="80.2" r="4.3" fill="#A73030"/><circle cx="697.1" cy="83.8" r="4.3" fill="#A73030"/><circle cx="697.1" cy="87.5" r="4.3" fill="#A73030"/><circle cx="731.0" cy="77.8" r="4.3" fill="#A73030"/><circle cx="734.1" cy="79.7" r="4.3" fill="#A73030"/><circle cx="672.9" cy="87.0" r="4.3" fill="#A73030"/><circle cx="709.9" cy="93.0" r="4.3" fill="#A73030"/><circle cx="723.1" cy="90.0" r="4.3" fill="#A73030"/><circle cx="729.9" cy="93.5" r="4.3" fill="#A73030"/><circle cx="676.5" cy="107.5" r="4.3" fill="#A73030"/><circle cx="686.1" cy="111.8" r="4.3" fill="#A73030"/><circle cx="659.5" cy="125.0" r="4.3" fill="#A73030"/><circle cx="666.9" cy="125.0" r="4.3" fill="#A73030"/><circle cx="772.9" cy="65.5" r="4.3" fill="#A73030"/><circle cx="752.9" cy="77.0" r="4.3" fill="#A73030"/><circle cx="760.1" cy="75.8" r="4.3" fill="#A73030"/><circle cx="746.1" cy="87.2" r="4.3" fill="#A73030"/><circle cx="706.1" cy="92.7" r="4.3" fill="#A73030"/><circle cx="839.5" cy="171.8" r="4.3" fill="#A73030"/><circle cx="845.6" cy="172.3" r="4.3" fill="#A73030"/><circle cx="851.6" cy="170.6" r="4.3" fill="#A73030"/><circle cx="829.9" cy="181.4" r="4.3" fill="#A73030"/><circle cx="837.1" cy="182.1" r="4.3" fill="#A73030"/><circle cx="839.5" cy="186.2" r="4.3" fill="#A73030"/><circle cx="829.9" cy="192.9" r="4.3" fill="#A73030"/><circle cx="856.5" cy="162.7" r="4.3" fill="#A73030"/><circle cx="856.5" cy="155.4" r="4.3" fill="#A73030"/><circle cx="846.1" cy="154.8" r="4.3" fill="#A73030"/><circle cx="626.5" cy="186.1" r="4.3" fill="#A73030"/><circle cx="819.9" cy="64.5" r="4.3" fill="#A73030"/><circle cx="849.9" cy="65.7" r="4.3" fill="#A73030"/><circle cx="781.4" cy="83.8" r="4.3" fill="#A73030"/><circle cx="783.6" cy="83.8" r="4.3" fill="#A73030"/><circle cx="766.8" cy="93.0" r="4.3" fill="#A73030"/><circle cx="789.1" cy="88.0" r="4.3" fill="#A73030"/><circle cx="787.5" cy="96.8" r="4.3" fill="#A73030"/><circle cx="783.6" cy="96.8" r="4.3" fill="#A73030"/><circle cx="778.1" cy="103.5" r="4.3" fill="#A73030"/><circle cx="786.4" cy="103.5" r="4.3" fill="#A73030"/><circle cx="799.0" cy="100.2" r="4.3" fill="#A73030"/><circle cx="806.1" cy="106.7" r="4.3" fill="#A73030"/><circle cx="799.5" cy="112.2" r="4.3" fill="#A73030"/><circle cx="805.0" cy="117.7" r="4.3" fill="#A73030"/><circle cx="792.9" cy="129.2" r="4.3" fill="#A73030"/><circle cx="802.2" cy="129.2" r="4.3" fill="#A73030"/><circle cx="786.4" cy="136.2" r="4.3" fill="#A73030"/><circle cx="792.9" cy="149.3" r="4.3" fill="#A73030"/><circle cx="825.9" cy="121.0" r="4.3" fill="#A73030"/><circle cx="825.9" cy="129.7" r="4.3" fill="#A73030"/><circle cx="832.4" cy="131.8" r="4.3" fill="#A73030"/><circle cx="836.8" cy="138.4" r="4.3" fill="#A73030"/><circle cx="825.9" cy="143.9" r="4.3" fill="#A73030"/><circle cx="835.6" cy="145.1" r="4.3" fill="#A73030"/><circle cx="840.0" cy="116.5" r="4.3" fill="#A73030"/><circle cx="819.2" cy="104.5" r="4.3" fill="#A73030"/><circle cx="823.6" cy="102.3" r="4.3" fill="#A73030"/><circle cx="813.8" cy="110.0" r="4.3" fill="#A73030"/><circle cx="817.0" cy="112.2" r="4.3" fill="#A73030"/><circle cx="829.1" cy="78.8" r="4.3" fill="#A73030"/><circle cx="838.9" cy="72.8" r="4.3" fill="#A73030"/><circle cx="843.4" cy="70.5" r="4.3" fill="#A73030"/><circle cx="847.8" cy="76.0" r="4.3" fill="#A73030"/><circle cx="806.1" cy="73.8" r="4.3" fill="#A73030"/><circle cx="814.9" cy="73.8" r="4.3" fill="#A73030"/><circle cx="801.8" cy="80.5" r="4.3" fill="#A73030"/><circle cx="801.8" cy="87.0" r="4.3" fill="#A73030"/><circle cx="821.4" cy="91.3" r="4.3" fill="#A73030"/><circle cx="812.6" cy="88.0" r="4.3" fill="#A73030"/><circle cx="845.5" cy="142.8" r="4.3" fill="#A73030"/><circle cx="853.1" cy="145.1" r="4.3" fill="#A73030"/><circle cx="846.6" cy="153.8" r="4.3" fill="#A73030"/><circle cx="855.4" cy="154.8" r="4.3" fill="#A73030"/><circle cx="856.4" cy="161.4" r="4.3" fill="#A73030"/><circle cx="876.1" cy="149.3" r="4.3" fill="#A73030"/><circle cx="869.6" cy="151.6" r="4.3" fill="#A73030"/><circle cx="889.4" cy="129.7" r="4.3" fill="#A73030"/><circle cx="563.9" cy="137.2" r="4.3" fill="#A73030"/><circle cx="582.6" cy="156.2" r="4.3" fill="#A73030"/><circle cx="576.9" cy="172.2" r="4.3" fill="#A73030"/><circle cx="587.5" cy="122.0" r="4.3" fill="#A73030"/><circle cx="929.4" cy="79.5" r="4.3" fill="#A73030"/><circle cx="936.1" cy="85.5" r="4.3" fill="#A73030"/><circle cx="933.4" cy="100.2" r="4.3" fill="#A73030"/><circle cx="922.9" cy="109.2" r="4.3" fill="#A73030"/><circle cx="913.1" cy="113.2" r="4.3" fill="#A73030"/><circle cx="905.1" cy="121.2" r="4.3" fill="#A73030"/><circle cx="686.6" cy="140.1" r="4.3" fill="#A73030"/><circle cx="820.1" cy="100.2" r="4.3" fill="#A73030"/><circle cx="826.1" cy="104.2" r="4.3" fill="#A73030"/><circle cx="832.1" cy="106.2" r="4.3" fill="#A73030"/><circle cx="838.1" cy="104.2" r="4.3" fill="#A73030"/><circle cx="844.1" cy="100.2" r="4.3" fill="#A73030"/><circle cx="818.1" cy="108.2" r="4.3" fill="#A73030"/><circle cx="824.1" cy="110.2" r="4.3" fill="#A73030"/><circle cx="836.1" cy="111.2" r="4.3" fill="#A73030"/><circle cx="843.1" cy="110.2" r="4.3" fill="#A73030"/><circle cx="848.1" cy="105.2" r="4.3" fill="#A73030"/><circle cx="799.1" cy="100.2" r="4.3" fill="#A73030"/><circle cx="806.8" cy="106.2" r="4.3" fill="#A73030"/><circle cx="800.1" cy="112.2" r="4.3" fill="#A73030"/><circle cx="806.1" cy="118.2" r="4.3" fill="#A73030"/><circle cx="793.1" cy="129.2" r="4.3" fill="#A73030"/><circle cx="802.9" cy="129.2" r="4.3" fill="#A73030"/><circle cx="786.1" cy="136.2" r="4.3" fill="#A73030"/><circle cx="826.1" cy="121.5" r="4.3" fill="#A73030"/><circle cx="826.1" cy="129.6" r="4.3" fill="#A73030"/><circle cx="833.4" cy="131.6" r="4.3" fill="#A73030"/><circle cx="834.1" cy="138.8" r="4.3" fill="#A73030"/><circle cx="839.4" cy="138.8" r="4.3" fill="#A73030"/><circle cx="825.8" cy="143.8" r="4.3" fill="#A73030"/><circle cx="836.4" cy="146.2" r="4.3" fill="#A73030"/><circle cx="840.1" cy="116.2" r="4.3" fill="#A73030"/><circle cx="793.1" cy="149.6" r="4.3" fill="#A73030"/><circle cx="846.1" cy="154.6" r="4.3" fill="#A73030"/><circle cx="856.1" cy="155.2" r="4.3" fill="#A73030"/><circle cx="849.4" cy="144.8" r="4.3" fill="#A73030"/><circle cx="853.4" cy="146.2" r="4.3" fill="#A73030"/><circle cx="903.1" cy="65.3" r="4.3" fill="#A73030"/><circle cx="892.6" cy="72.0" r="4.3" fill="#A73030"/><circle cx="899.4" cy="75.5" r="4.3" fill="#A73030"/><circle cx="916.2" cy="75.5" r="4.3" fill="#A73030"/><circle cx="849.5" cy="75.5" r="4.3" fill="#A73030"/><circle cx="863.0" cy="76.2" r="4.3" fill="#A73030"/><circle cx="856.1" cy="78.2" r="4.3" fill="#A73030"/><circle cx="880.1" cy="86.2" r="4.3" fill="#A73030"/><circle cx="709.5" cy="93.3" r="4.3" fill="#A73030"/><circle cx="868.6" cy="149.8" r="4.3" fill="#A73030"/><circle cx="876.8" cy="149.2" r="4.3" fill="#A73030"/><circle cx="856.4" cy="155.9" r="4.3" fill="#A73030"/><circle cx="856.4" cy="162.2" r="4.3" fill="#A73030"/><circle cx="923.1" cy="112.7" r="4.3" fill="#A73030"/><circle cx="580.4" cy="189.8" r="4.3" fill="#3B3B3B"/><circle cx="602.2" cy="105.8" r="4.3" fill="#3B3B3B"/><circle cx="619.9" cy="193.6" r="4.3" fill="#3B3B3B"/><circle cx="626.5" cy="192.7" r="4.3" fill="#3B3B3B"/><circle cx="633.1" cy="193.1" r="4.3" fill="#3B3B3B"/><circle cx="610.1" cy="201.2" r="4.3" fill="#3B3B3B"/><circle cx="650.1" cy="208.1" r="4.3" fill="#3B3B3B"/><circle cx="713.1" cy="197.6" r="4.3" fill="#3B3B3B"/><circle cx="718.6" cy="193.8" r="4.3" fill="#3B3B3B"/><circle cx="726.5" cy="189.1" r="4.3" fill="#3B3B3B"/><circle cx="736.9" cy="190.8" r="4.3" fill="#3B3B3B"/><circle cx="740.4" cy="181.2" r="4.3" fill="#3B3B3B"/><circle cx="746.5" cy="179.9" r="4.3" fill="#3B3B3B"/><circle cx="746.5" cy="186.1" r="4.3" fill="#3B3B3B"/><circle cx="753.1" cy="188.4" r="4.3" fill="#3B3B3B"/><circle cx="742.9" cy="194.4" r="4.3" fill="#3B3B3B"/><circle cx="735.6" cy="200.6" r="4.3" fill="#3B3B3B"/><circle cx="729.5" cy="198.2" r="4.3" fill="#3B3B3B"/><circle cx="723.4" cy="204.2" r="4.3" fill="#3B3B3B"/><circle cx="719.9" cy="209.1" r="4.3" fill="#3B3B3B"/><circle cx="727.1" cy="211.4" r="4.3" fill="#3B3B3B"/><circle cx="723.4" cy="215.1" r="4.3" fill="#3B3B3B"/><circle cx="719.2" cy="216.3" r="4.3" fill="#3B3B3B"/><circle cx="726.5" cy="214.4" r="4.3" fill="#3B3B3B"/><circle cx="739.9" cy="210.2" r="4.3" fill="#3B3B3B"/><circle cx="736.9" cy="206.7" r="4.3" fill="#3B3B3B"/><circle cx="710.1" cy="213.8" r="4.3" fill="#3B3B3B"/><circle cx="699.9" cy="219.9" r="4.3" fill="#3B3B3B"/><circle cx="696.9" cy="229.1" r="4.3" fill="#3B3B3B"/><circle cx="710.1" cy="228.4" r="4.3" fill="#3B3B3B"/><circle cx="723.4" cy="224.2" r="4.3" fill="#3B3B3B"/><circle cx="696.9" cy="242.9" r="4.3" fill="#3B3B3B"/><circle cx="693.1" cy="244.8" r="4.3" fill="#3B3B3B"/><circle cx="696.9" cy="256.4" r="4.3" fill="#3B3B3B"/><circle cx="746.5" cy="170.2" r="4.3" fill="#3B3B3B"/><circle cx="723.4" cy="194.4" r="4.3" fill="#3B3B3B"/><circle cx="730.8" cy="194.4" r="4.3" fill="#3B3B3B"/><circle cx="733.1" cy="201.8" r="4.3" fill="#3B3B3B"/><circle cx="729.5" cy="206.7" r="4.3" fill="#3B3B3B"/><circle cx="725.9" cy="209.1" r="4.3" fill="#3B3B3B"/><circle cx="733.1" cy="206.7" r="4.3" fill="#3B3B3B"/><circle cx="736.9" cy="198.2" r="4.3" fill="#3B3B3B"/><circle cx="742.9" cy="189.7" r="4.3" fill="#3B3B3B"/><circle cx="746.5" cy="183.6" r="4.3" fill="#3B3B3B"/><circle cx="722.2" cy="210.2" r="4.3" fill="#3B3B3B"/><circle cx="718.6" cy="212.7" r="4.3" fill="#3B3B3B"/><circle cx="727.1" cy="217.6" r="4.3" fill="#3B3B3B"/><circle cx="731.1" cy="191.2" r="4.3" fill="#3B3B3B"/><circle cx="739.1" cy="186.2" r="4.3" fill="#3B3B3B"/><circle cx="478.8" cy="127.8" r="4.3" fill="#0073C2"/>
</g>
<line x1="280.60" y1="968.0" x2="280.60" y2="973.0" stroke="#333" stroke-width="2.2"/>
<line x1="613.30" y1="968.0" x2="613.30" y2="973.0" stroke="#333" stroke-width="2.2"/>
<line x1="946.00" y1="968.0" x2="946.00" y2="973.0" stroke="#333" stroke-width="2.2"/>
<line x1="62.5" y1="767.00" x2="67.5" y2="767.00" stroke="#333" stroke-width="2.2"/>
<line x1="62.5" y1="452.60" x2="67.5" y2="452.60" stroke="#333" stroke-width="2.2"/>
<line x1="62.5" y1="138.20" x2="67.5" y2="138.20" stroke="#333" stroke-width="2.2"/>
<path transform="translate(280.1,977.7)" d="M0,0 L2.8,0 L2.8,19.7 L0,19.7 L0,5.4 L-4.6,5.4 L-4.6,3.3 C-2.2,3.2 -0.4,2.2 0,0 Z" fill="#4D4D4D"/>
<path transform="translate(50.4,757.3)" d="M0,0 L2.8,0 L2.8,19.7 L0,19.7 L0,5.4 L-4.6,5.4 L-4.6,3.3 C-2.2,3.2 -0.4,2.2 0,0 Z" fill="#4D4D4D"/>
<text x="613.30" y="997.9" font-size="29.0" fill="#4D4D4D" text-anchor="middle">2</text>
<text x="946.00" y="997.9" font-size="29.0" fill="#4D4D4D" text-anchor="middle">3</text>
<text x="58.30" y="462.4" font-size="29.0" fill="#4D4D4D" text-anchor="end">2</text>
<text x="58.30" y="148.0" font-size="29.0" fill="#4D4D4D" text-anchor="end">3</text>
<text x="580.0" y="1033.8" font-size="36.0" fill="#000" text-anchor="middle">TiTv before QC</text>
<text transform="translate(30.8,484.5) rotate(-90) scale(1.018,1)" font-size="36.0" fill="#000" text-anchor="middle">TiTv After QC</text>
<text x="1121.6" y="339" font-size="20" fill="#000">Studies</text>
<rect x="1121.8" y="349.1" width="31.1" height="297.2" fill="#F2F2F2"/>
<circle cx="1137.3" cy="365.9" r="4.3" fill="#0073C2"/>
<text transform="translate(1163.4,378.6) scale(0.992,1.05)" font-size="36" fill="#000">ADGC<tspan dy="-1.5">_</tspan><tspan dy="1.5">AA</tspan></text>
<circle cx="1137.3" cy="398.9" r="4.3" fill="#EFC000"/>
<text transform="translate(1163.4,411.6) scale(0.992,1.05)" font-size="36" fill="#000">ADSP<tspan dy="-1.5">_</tspan><tspan dy="1.5">Discovery</tspan></text>
<circle cx="1137.3" cy="431.9" r="4.3" fill="#868686"/>
<text transform="translate(1163.4,444.6) scale(0.992,1.05)" font-size="36" fill="#000">Brkanac<tspan dy="-1.5">_</tspan><tspan dy="1.5">Families</tspan></text>
<circle cx="1137.3" cy="464.9" r="4.3" fill="#CD534C"/>
<text transform="translate(1163.4,477.6) scale(0.992,1.05)" font-size="36" fill="#000">CBD</text>
<circle cx="1137.3" cy="497.9" r="4.3" fill="#7AA6DC"/>
<text transform="translate(1163.4,510.6) scale(0.992,1.05)" font-size="36" fill="#000">Columbia<tspan dy="-1.5">_</tspan><tspan dy="1.5">WHICAP</tspan></text>
<circle cx="1137.3" cy="530.9" r="4.3" fill="#003C67"/>
<text transform="translate(1163.4,543.6) scale(0.992,1.05)" font-size="36" fill="#000">FASe<tspan dy="-1.5">_</tspan><tspan dy="1.5">Families</tspan></text>
<circle cx="1137.3" cy="563.9" r="4.3" fill="#8F7700"/>
<text transform="translate(1163.4,576.6) scale(0.992,1.05)" font-size="36" fill="#000">KnightADRC</text>
<circle cx="1137.3" cy="596.9" r="4.3" fill="#3B3B3B"/>
<text transform="translate(1163.4,609.6) scale(0.992,1.05)" font-size="36" fill="#000">Miami<tspan dy="-1.5">_</tspan><tspan dy="1.5">Families</tspan></text>
<circle cx="1137.3" cy="629.9" r="4.3" fill="#A73030"/>
<text transform="translate(1163.4,642.6) scale(0.992,1.05)" font-size="36" fill="#000">PSP</text>
</svg></body></html>
